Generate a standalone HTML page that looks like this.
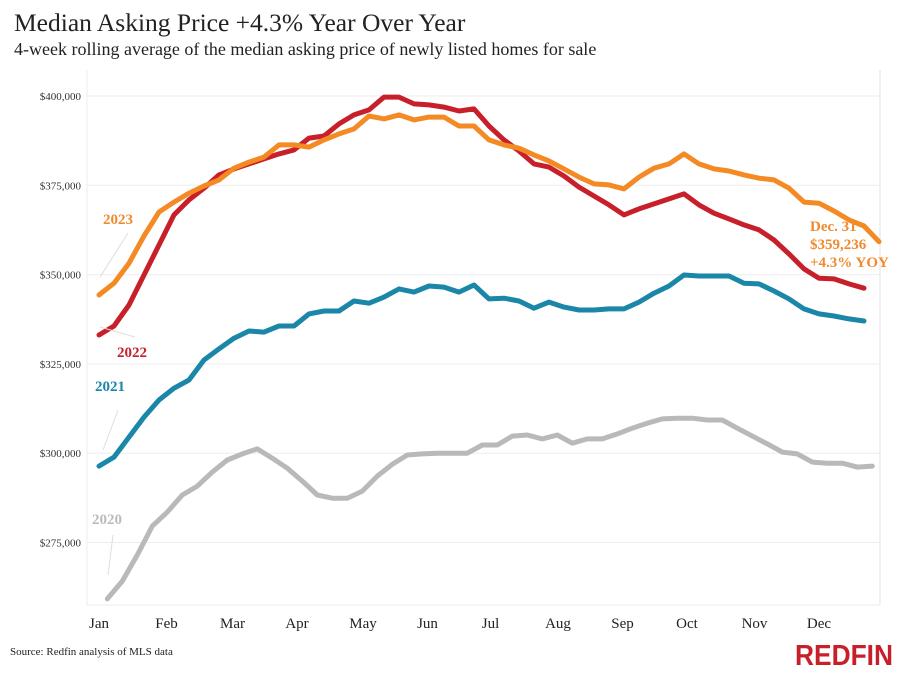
<!DOCTYPE html>
<html><head><meta charset="utf-8">
<style>
body{margin:0;background:#fff;width:902px;height:677px;overflow:hidden;font-family:"Liberation Serif",serif;}
svg{display:block}
</style></head>
<body>
<svg id="chart" width="902" height="677">
<rect x="0" y="0" width="902" height="677" fill="#fff"/>
<text x="14" y="31" font-size="25.5" fill="#222" font-family="Liberation Serif, serif">Median Asking Price +4.3% Year Over Year</text>
<text x="14" y="55" font-size="18" fill="#222" font-family="Liberation Serif, serif">4-week rolling average of the median asking price of newly listed homes for sale</text>
<line x1="87" y1="70" x2="87" y2="605" stroke="#eee"/>
<line x1="880" y1="70" x2="880" y2="605" stroke="#e2e2e2"/>
<line x1="87" y1="605" x2="880" y2="605" stroke="#eee"/>
<g id="grid"></g>
<g id="series"></g>
<g font-family="Liberation Serif, serif" font-weight="bold" font-size="15">
<line x1="100" y1="277" x2="128" y2="233" stroke="#ddd"/>
<text x="103" y="224" fill="#f08a2c">2023</text>
<line x1="100" y1="327" x2="135" y2="337" stroke="#ddd"/>
<text x="117" y="357" fill="#c8202a">2022</text>
<line x1="103" y1="450" x2="118" y2="410" stroke="#ddd"/>
<text x="95" y="391" fill="#1a86a8">2021</text>
<line x1="113" y1="535" x2="108" y2="575" stroke="#ddd"/>
<text x="92" y="524" fill="#bbb">2020</text>
<text x="810" y="231" fill="#f08a2c">Dec. 31</text>
<text x="810" y="249" fill="#f08a2c">$359,236</text>
<text x="810" y="267" fill="#f08a2c">+4.3% YOY</text>
</g>
<text x="10" y="655" font-size="11" fill="#222">Source: Redfin analysis of MLS data</text>
<text x="893" y="665" text-anchor="end" font-size="29" font-weight="bold" fill="#c8202a" font-family="Liberation Sans, sans-serif" textLength="98" lengthAdjust="spacingAndGlyphs">REDFIN</text>
</svg>
<script>
const yTicks=[400000,375000,350000,325000,300000,275000];
const months=["Jan","Feb","Mar","Apr","May","Jun","Jul","Aug","Sep","Oct","Nov","Dec"];
const monthPos=[0,4.5,8.9,13.2,17.6,21.9,26.1,30.6,34.9,39.2,43.7,48.0];
const seriesNames=["2020","2021","2022","2023"];
const startWeek=[0.55,0,0,0];
const v2023=[344.3,347.6,353.2,360.8,367.5,370.3,372.8,374.8,376.5,379.8,381.5,382.9,386.3,386.3,385.7,387.7,389.4,390.8,394.4,393.6,394.7,393.3,394.1,394.1,391.6,391.6,387.7,386.3,385.4,383.5,381.8,379.6,377.3,375.4,375.1,374.0,377.3,379.8,381.0,383.8,381.0,379.6,379.0,377.9,377.0,376.5,374.2,370.3,370.0,367.8,365.3,363.6,359.2];
const v2022=[333.1,335.6,341.5,349.9,358.3,366.7,370.9,374.2,377.9,379.6,381.0,382.4,383.8,384.9,388.2,388.8,392.2,394.7,396.1,399.7,399.7,397.8,397.5,396.9,395.8,396.4,391.6,387.7,384.6,381.0,380.1,377.6,374.5,372.0,369.5,366.7,368.4,369.8,371.2,372.6,369.5,367.2,365.6,363.9,362.5,359.7,355.8,351.6,349.0,348.8,347.4,346.2];
const v2021=[296.4,298.9,304.5,310.1,314.9,318.2,320.5,326.1,329.2,332.2,334.2,333.9,335.6,335.6,339.0,339.8,339.8,342.6,342.0,343.7,346.0,345.1,346.8,346.5,345.1,347.1,343.2,343.4,342.6,340.6,342.3,340.9,340.1,340.1,340.4,340.4,342.3,344.8,346.8,349.9,349.6,349.6,349.6,347.6,347.4,345.4,343.2,340.4,339.0,338.4,337.6,337.0];
const v2020=[259.2,264.2,271.5,279.6,283.5,288.3,290.8,294.7,298.1,299.8,301.2,298.6,295.8,292.2,288.3,287.4,287.4,289.4,293.6,296.9,299.5,299.8,300.0,300.0,300.0,302.3,302.3,304.8,305.1,304.0,305.1,302.8,304.0,304.0,305.4,307.0,308.4,309.6,309.8,309.8,309.3,309.3,307.0,304.8,302.6,300.3,299.8,297.5,297.2,297.2,296.1,296.4];
const colors=["#b9b9b9","#1a86a8","#c8202a","#f48a24"];
const NS="http://www.w3.org/2000/svg";
function xScale(w){return 99+w*15;}
function yScale(v){return 96+(400000-v)/25000*89.3;}
const grid=document.getElementById('grid');
yTicks.forEach(t=>{
  const l=document.createElementNS(NS,'line');
  l.setAttribute('x1',87);l.setAttribute('x2',880);
  l.setAttribute('y1',yScale(t));l.setAttribute('y2',yScale(t));
  l.setAttribute('stroke','#eeeeee');
  
  
  grid.appendChild(l);
  const tx=document.createElementNS(NS,'text');
  tx.setAttribute('x',81);tx.setAttribute('y',yScale(t)+4);
  tx.setAttribute('text-anchor','end');tx.setAttribute('font-size','11');tx.setAttribute('fill','#333');
  tx.textContent='$'+t.toLocaleString('en-US');
  
  
  grid.appendChild(tx);
});
months.forEach((m,i)=>{
  const tx=document.createElementNS(NS,'text');
  tx.setAttribute('x',xScale(monthPos[i]));tx.setAttribute('y',628);
  tx.setAttribute('text-anchor','middle');tx.setAttribute('font-size','15');tx.setAttribute('fill','#222');
  tx.textContent=m;
  
  
  grid.appendChild(tx);
});
const all=[v2020,v2021,v2022,v2023];
const sg=document.getElementById('series');
all.forEach((arr,si)=>{
  const pts=arr.map((v,i)=>xScale(i+startWeek[si]).toFixed(1)+','+yScale(v*1000).toFixed(1)).join(' ');
  const p=document.createElementNS(NS,'polyline');
  p.setAttribute('points',pts);
  p.setAttribute('fill','none');p.setAttribute('stroke',colors[si]);
  p.setAttribute('stroke-width','5');p.setAttribute('stroke-linejoin','round');p.setAttribute('stroke-linecap','round');
  
  
  sg.appendChild(p);
});
</script>
</body></html>
